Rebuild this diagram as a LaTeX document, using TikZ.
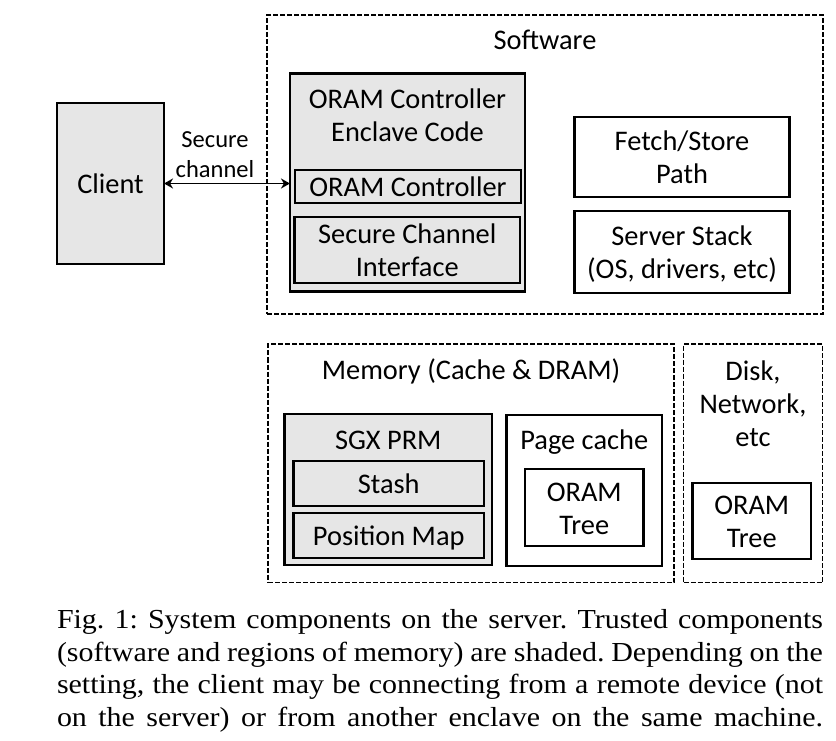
\documentclass[tikz,border=0pt]{standalone}
\usepackage{fontspec}
\setmainfont{Carlito}
\newfontfamily\capfont[FakeStretch=1.09]{Liberation Serif}
\usetikzlibrary{arrows.meta}
\definecolor{shade}{HTML}{E6E6E6}
\newcommand\stt{\rule[-6.5pt]{0pt}{33pt}}
\newcommand\sts{\rule[-7.5pt]{0pt}{30pt}}
\newcommand\stc{\rule[-8pt]{0pt}{32.7pt}}
\newcommand\capline[1]{\makebox[766pt][s]{#1}}
\begin{document}
\begin{tikzpicture}[x=1pt,y=-1pt,
  every node/.style={inner sep=0pt, outer sep=0pt},
  lbl/.style={font=\fontsize{28.4}{33}\selectfont, align=center},
  solidbox/.style={draw, line width=2.3pt, fill=white, lbl},
  shadedbox/.style={solidbox, fill=shade},
  dashbox/.style={draw, line width=1.8pt, dash pattern=on 5pt off 2pt},
  arr/.style={{Stealth[length=9pt,width=10pt]}-{Stealth[length=9pt,width=10pt]}, line width=1.8pt},
]
\useasboundingbox (0,0) rectangle (836,741);

% outer dashed regions
\node[dashbox, minimum width=556, minimum height=299] (sw) at (545,164.5) {};
\node[lbl] (swl) at (545,40) {\stt Software};
\node[dashbox, minimum width=406, minimum height=238.5] (mem) at (471,463.25) {};
\node[lbl] (meml) at (471,369) {\stt Memory (Cache \& DRAM)};
\node[dashbox, minimum width=139, minimum height=238.5] (disk) at (753,463.25) {};
\node[lbl] (diskl) at (753,403) {\stt Disk,\\\stt Network,\\\stt etc};

% client
\node[shadedbox, minimum width=107, minimum height=161] (client) at (110.5,183.5) {\stt Client};

% software
\node[shadedbox, minimum width=235, minimum height=218] (encl) at (407.5,182.5) {};
\node[lbl] (encll) at (407.5,115.5) {\stt ORAM Controller\\\stt Enclave Code};
\node[shadedbox, minimum width=226, minimum height=30.5] (oc) at (408,186.25) {\stt ORAM Controller};
\node[shadedbox, minimum width=225.5, minimum height=61.5] (sci) at (407.25,250.25) {\stt Secure Channel\\\stt Interface};
\node[solidbox, minimum width=215, minimum height=80] (fetch) at (682,157) {\stt Fetch/Store\\\stt Path};
\node[solidbox, minimum width=215, minimum height=82] (stack) at (682,252) {\stt Server Stack\\\stt (OS, drivers, etc)};

% memory
\node[shadedbox, minimum width=207.5, minimum height=151] (sgx) at (388.25,489.5) {};
\node[lbl] (sgxl) at (388.25,439) {\stt SGX PRM};
\node[shadedbox, minimum width=190.5, minimum height=45] (stash) at (388.75,483.5) {\stt Stash};
\node[shadedbox, minimum width=190.5, minimum height=45] (pos) at (388.75,535.5) {\stt Position Map};
\node[solidbox, minimum width=155.5, minimum height=151] (page) at (584.25,490.5) {};
\node[lbl] (pagel) at (584.25,439) {\stt Page cache};
\node[solidbox, minimum width=118.5, minimum height=77] (tree1) at (584.25,507.5) {\stt ORAM\\\stt Tree};

% disk
\node[solidbox, minimum width=118.5, minimum height=76] (tree2) at (751.75,521) {\stt ORAM\\\stt Tree};

% secure channel
\draw[arr] (client.east) -- (client.east -| encl.west);
\node[font=\fontsize{24.5}{30}\selectfont, align=center] (scl) at (215,155.5) {\sts Secure\\\sts channel};

% caption
\node[anchor=north west, align=left, font=\capfont\fontsize{27.5}{32.7}\selectfont\frenchspacing] (cap) at (57,603.6)
{\capline{\stc Fig.~1: System components on the server. Trusted components}\\
 \capline{\stc (software and regions of memory) are shaded. Depending on the}\\
 \capline{\stc setting, the client may be connecting from a remote device (not}\\
 \capline{\stc on the server) or from another enclave on the same machine.}};
\end{tikzpicture}
\end{document}
